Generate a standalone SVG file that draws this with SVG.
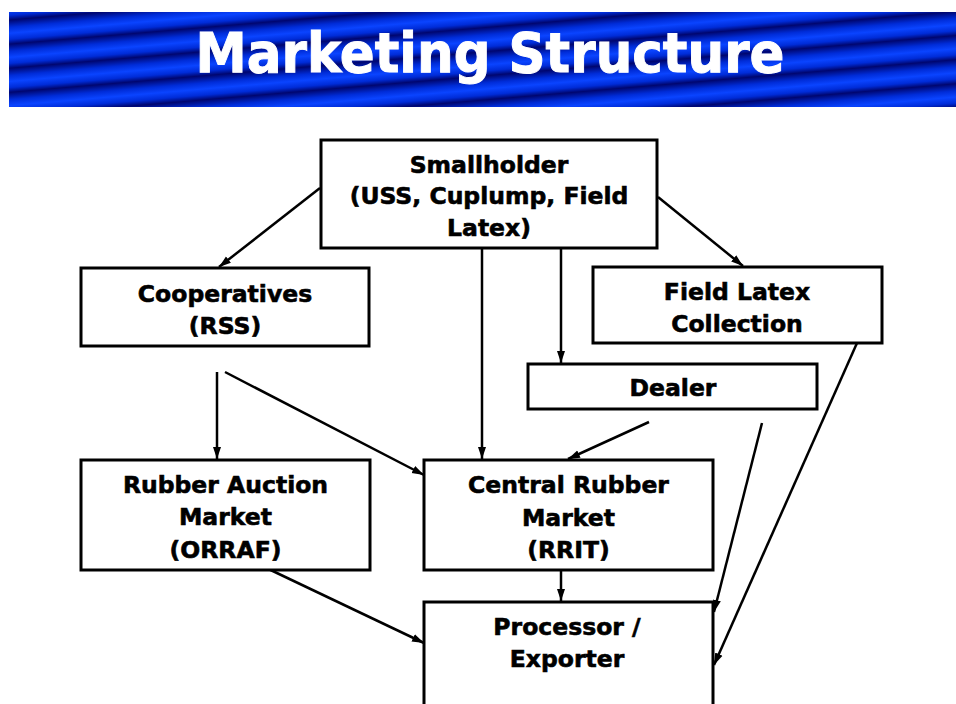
<svg xmlns="http://www.w3.org/2000/svg" width="956" height="704" viewBox="0 0 956 704">
<style>
.box{fill:#fff;stroke:#000;stroke-width:3}
.t{font-family:"DejaVu Sans","Verdana",sans-serif;font-weight:bold;font-size:23.5px;fill:#000;stroke:#000;stroke-width:0.6;text-anchor:middle}
.c{stroke:#000;stroke-width:2.5;fill:none;marker-end:url(#ah)}
</style>
<defs>
<linearGradient id="stripes" gradientUnits="userSpaceOnUse" x1="0" y1="0" x2="1" y2="24" spreadMethod="repeat" gradientTransform="rotate(-2.5 480 60)">
<stop offset="0" stop-color="#000670"/>
<stop offset="0.3" stop-color="#002cd8"/>
<stop offset="0.55" stop-color="#0a44ff"/>
<stop offset="0.8" stop-color="#002cd8"/>
<stop offset="1" stop-color="#000670"/>
</linearGradient>
<marker id="ah" markerUnits="userSpaceOnUse" markerWidth="14" markerHeight="12" refX="12" refY="5" orient="auto">
<path d="M0,1 L12,5 L0,9 Z" fill="#000"/>
</marker>
</defs>
<g id="title">
<rect x="9" y="12" width="947" height="95" fill="url(#stripes)"/>
<text x="490" y="72" font-family="DejaVu Sans, Verdana, sans-serif" font-weight="bold" font-size="55" fill="#fff" stroke="#fff" stroke-width="1" text-anchor="middle" textLength="589" lengthAdjust="spacingAndGlyphs">Marketing Structure</text>
</g>
<g id="connectors">
<line class="c" x1="320" y1="188" x2="219" y2="267"/>
<line class="c" x1="658" y1="197" x2="743" y2="266"/>
<line class="c" x1="482" y1="245" x2="482" y2="459"/>
<line class="c" x1="561" y1="242" x2="561" y2="363"/>
<line class="c" x1="217" y1="372" x2="217" y2="459"/>
<line class="c" x1="225" y1="372" x2="424" y2="475"/>
<line class="c" x1="649" y1="422" x2="568" y2="459"/>
<line class="c" x1="258" y1="564" x2="424" y2="643"/>
<line class="c" x1="561" y1="565" x2="561" y2="601"/>
<line class="c" x1="762" y1="423" x2="714" y2="612"/>
<line class="c" x1="865" y1="325" x2="714" y2="665"/>
</g>
<g id="smallholder">
<rect class="box" x="321" y="140" width="336" height="108"/>
<text class="t" x="489" y="173">Smallholder</text>
<text class="t" x="489" y="204">(USS, Cuplump, Field</text>
<text class="t" x="489" y="236">Latex)</text>
</g>
<g id="cooperatives">
<rect class="box" x="81" y="268" width="288" height="78"/>
<text class="t" x="225" y="302">Cooperatives</text>
<text class="t" x="225" y="334">(RSS)</text>
</g>
<g id="field-latex">
<rect class="box" x="593" y="267" width="289" height="76"/>
<text class="t" x="737" y="300">Field Latex</text>
<text class="t" x="737" y="332">Collection</text>
</g>
<g id="dealer">
<rect class="box" x="528" y="364" width="289" height="45"/>
<text class="t" x="673" y="396">Dealer</text>
</g>
<g id="rubber-auction">
<rect class="box" x="81" y="460" width="289" height="110"/>
<text class="t" x="225.5" y="493">Rubber Auction</text>
<text class="t" x="225.5" y="525">Market</text>
<text class="t" x="225.5" y="558">(ORRAF)</text>
</g>
<g id="central-rubber">
<rect class="box" x="424" y="460" width="289" height="110"/>
<text class="t" x="568.5" y="493">Central Rubber</text>
<text class="t" x="568.5" y="526">Market</text>
<text class="t" x="568.5" y="558">(RRIT)</text>
</g>
<g id="processor">
<rect class="box" x="424" y="602" width="289" height="110"/>
<text class="t" x="567" y="635">Processor /</text>
<text class="t" x="567" y="667">Exporter</text>
</g>
</svg>
